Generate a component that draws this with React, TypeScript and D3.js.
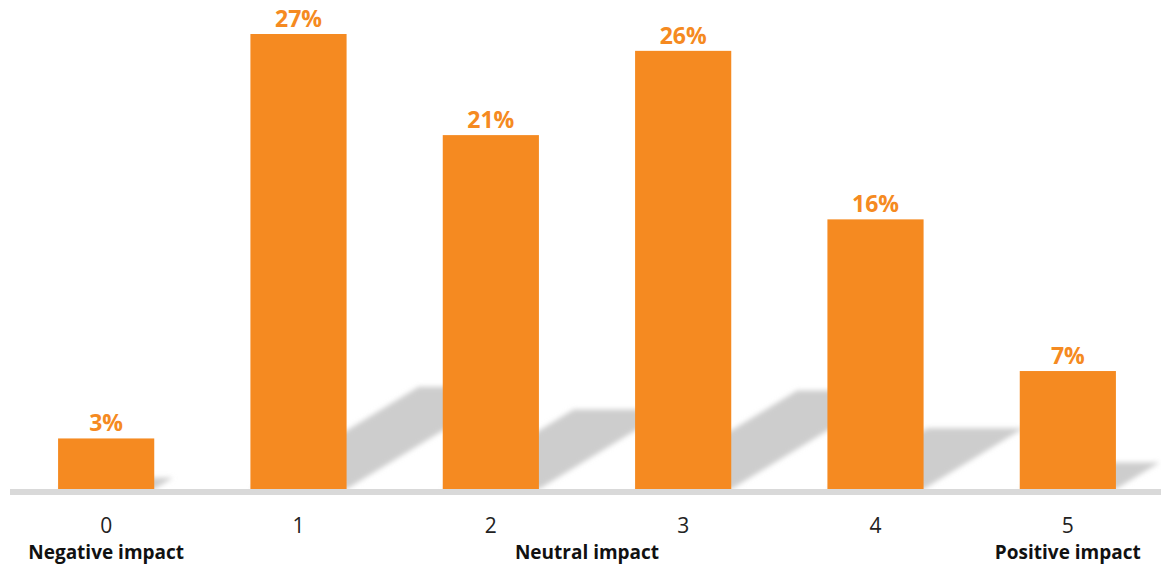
import React from "react";
import * as d3 from "d3";

const categories = ["0", "1", "2", "3", "4", "5"];
const values = [3, 27, 21, 26, 16, 7];
const valueLabels = ["3%", "27%", "21%", "26%", "16%", "7%"];
const scaleNotes = [
  { text: "Negative impact", from: "0", to: "0" },
  { text: "Neutral impact", from: "2", to: "3" },
  { text: "Positive impact", from: "5", to: "5" },
];

const W = 1161;
const H = 564;
const BASE = 489;
const ORANGE = "#F58A21";
const FONT = "'Open Sans', 'Liberation Sans', sans-serif";

export default function App() {
  const x = d3.scaleBand<string>().domain(categories).range([10, 1164]).paddingInner(0.5).paddingOuter(0.25);
  const y = d3.scaleLinear().domain([0, 27]).range([BASE, 34]);

  const bars = categories.map((c, i) => {
    const x0 = x(c)!;
    const x1 = x0 + x.bandwidth();
    const top = y(values[i]);
    const h = BASE - top;
    return { c, i, x0, x1, top, h };
  });

  // shadow projected behind each bar, leaning up and to the right
  const shadowPath = (b: (typeof bars)[number]) => {
    const dx = b.h * 0.37;
    const dy = b.h * 0.225;
    return `M${b.x0},${BASE} L${b.x1},${BASE} L${b.x1 + dx},${BASE - dy} L${b.x0 + dx},${BASE - dy} Z`;
  };

  return (
    <svg width={W} height={H} style={{ position: "absolute", left: 0, top: 0, background: "#fff" }}>
      <defs>
        <filter id="soft" x="-20%" y="-20%" width="140%" height="140%">
          <feGaussianBlur stdDeviation="2.5" />
        </filter>
      </defs>
      <g filter="url(#soft)">
        {bars.map((b) => (
          <path key={"s" + b.c} d={shadowPath(b)} fill="#cdcdcd" />
        ))}
      </g>
      <rect x={10} y={BASE} width={W - 10} height={6} fill="#d9d9d9" />
      {bars.map((b) => (
        <rect key={"b" + b.c} x={b.x0} y={b.top} width={b.x1 - b.x0} height={b.h} fill={ORANGE} />
      ))}
      {bars.map((b) => (
        <text
          key={"l" + b.c}
          x={(b.x0 + b.x1) / 2}
          y={b.top - 7}
          textAnchor="middle"
          fontFamily={FONT}
          fontWeight={700}
          fontSize={23}
          fill={ORANGE}
        >
          {valueLabels[b.i]}
        </text>
      ))}
      {categories.map((c) => (
        <text
          key={"t" + c}
          x={x(c)! + x.bandwidth() / 2}
          y={533}
          textAnchor="middle"
          fontFamily={FONT}
          fontSize={21}
          fill="#222"
        >
          {c}
        </text>
      ))}
      {scaleNotes.map((n) => (
        <text
          key={n.text}
          x={(x(n.from)! + x(n.to)! + x.bandwidth()) / 2}
          y={559}
          textAnchor="middle"
          fontFamily={FONT}
          fontWeight={700}
          fontSize={19}
          fill="#111"
        >
          {n.text}
        </text>
      ))}
    </svg>
  );
}
